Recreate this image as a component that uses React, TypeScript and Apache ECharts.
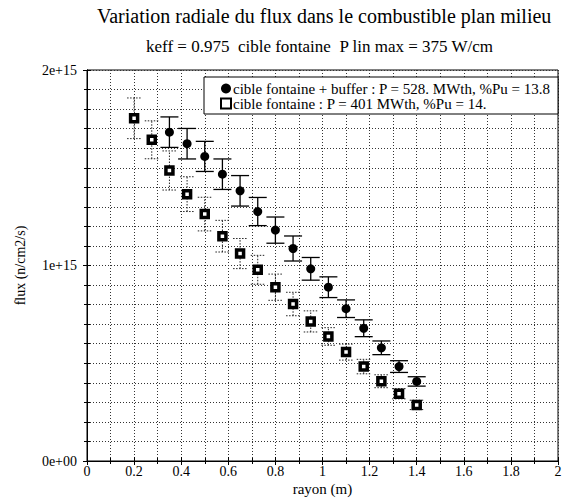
import React, { useEffect, useRef } from "react";
import * as echarts from "echarts";

const SCALE = 1e15;

const radiusFontaine = [0.2, 0.275, 0.35, 0.425, 0.5, 0.575, 0.65, 0.725, 0.8, 0.875, 0.95, 1.025, 1.1, 1.175, 1.25, 1.325, 1.4];
const fluxFontaine = [1.753, 1.643, 1.486, 1.365, 1.263, 1.15, 1.061, 0.978, 0.889, 0.803, 0.714, 0.637, 0.557, 0.483, 0.408, 0.344, 0.287];
const errFontaine = [0.104, 0.097, 0.1, 0.089, 0.086, 0.081, 0.077, 0.074, 0.067, 0.06, 0.054, 0.045, 0.041, 0.037, 0.033, 0.026, 0.024];

const radiusBuffer = [0.35, 0.425, 0.5, 0.575, 0.65, 0.725, 0.8, 0.875, 0.95, 1.025, 1.1, 1.175, 1.25, 1.325, 1.4];
const fluxBuffer = [1.682, 1.623, 1.558, 1.467, 1.382, 1.276, 1.181, 1.087, 0.983, 0.889, 0.779, 0.679, 0.579, 0.483, 0.407];
const errBuffer = [0.078, 0.078, 0.077, 0.078, 0.078, 0.072, 0.067, 0.064, 0.058, 0.053, 0.045, 0.043, 0.035, 0.03, 0.024];

const titleText = "Variation radiale du flux dans le combustible plan milieu";
const subtitleText = "keff = 0.975  cible fontaine  P lin max = 375 W/cm";
const nameBuffer = "cible fontaine + buffer : P = 528. MWth, %Pu = 13.8";
const nameFontaine = "cible fontaine : P = 401 MWth, %Pu = 14.";
const xName = "rayon (m)";
const yName = "flux (n/cm2/s)";

const FONT = "Liberation Serif";

function errorBarRenderer(capHalf: number, style: any) {
  return (params: any, api: any) => {
    const x = api.value(0);
    const lo = api.coord([x, api.value(1)]);
    const hi = api.coord([x, api.value(2)]);
    return {
      type: "group",
      children: [
        { type: "line", shape: { x1: lo[0], y1: lo[1], x2: hi[0], y2: hi[1] }, style },
        { type: "line", shape: { x1: lo[0] - capHalf, y1: lo[1], x2: lo[0] + capHalf, y2: lo[1] }, style },
        { type: "line", shape: { x1: hi[0] - capHalf, y1: hi[1], x2: hi[0] + capHalf, y2: hi[1] }, style },
      ],
    };
  };
}

export default function App() {
  const ref = useRef<HTMLDivElement>(null);
  useEffect(() => {
    if (!ref.current) return;
    const chart = echarts.init(ref.current, null, { renderer: "svg" });
    const bufPts = radiusBuffer.map((r, i) => [r, fluxBuffer[i] * SCALE]);
    const fonPts = radiusFontaine.map((r, i) => [r, fluxFontaine[i] * SCALE]);
    const bufErr = radiusBuffer.map((r, i) => [r, (fluxBuffer[i] - errBuffer[i]) * SCALE, (fluxBuffer[i] + errBuffer[i]) * SCALE]);
    const fonErr = radiusFontaine.map((r, i) => [r, (fluxFontaine[i] - errFontaine[i]) * SCALE, (fluxFontaine[i] + errFontaine[i]) * SCALE]);
    const gridLine = { show: true, lineStyle: { color: "#333", type: [1, 2], width: 1 } };
    const labelStyle = { fontFamily: FONT, fontSize: 14, color: "#000" };
    const option: any = {
      animation: false,
      backgroundColor: "#fff",
      textStyle: { fontFamily: FONT },
      title: [
        { text: titleText, left: 97, top: 6, padding: 0, textStyle: { fontFamily: FONT, fontSize: 20, fontWeight: "normal", color: "#000" } },
        { text: subtitleText, left: 146, top: 38, padding: 0, textStyle: { fontFamily: FONT, fontSize: 17, fontWeight: "normal", color: "#000" } },
      ],
      grid: { left: 87, right: 11, top: 70, bottom: 41, show: true, borderColor: "#000", borderWidth: 1, backgroundColor: "transparent" },
      graphic: [
        { type: "rect", z: 50, shape: { x: 204, y: 77, width: 354, height: 37 }, style: { fill: "#fff", stroke: "#000", lineWidth: 1 } },
      ],
      legend: {
        z: 60,
        orient: "vertical",
        left: 220,
        top: 81,
        itemWidth: 10,
        itemHeight: 10,
        itemGap: 0,
        padding: 0,
        textStyle: { fontFamily: FONT, fontSize: 15, lineHeight: 13, color: "#000", padding: [0, 0, 0, -3] },
        data: [nameBuffer, nameFontaine],
      },
      xAxis: [
        {
          type: "value", min: 0, max: 2, interval: 0.2,
          name: xName, nameLocation: "middle", nameGap: 20, nameMoveOverlap: false,
          nameTextStyle: { fontFamily: FONT, fontSize: 15, color: "#000", verticalAlign: "top" },
          axisLine: { show: true, lineStyle: { color: "#000" } },
          axisTick: { show: true, inside: true, length: 4, lineStyle: { color: "#000" } },
          minorTick: { show: true, splitNumber: 2, length: 3, lineStyle: { color: "#000" } },
          axisLabel: { ...labelStyle, margin: 3 },
          splitLine: gridLine,
          minorSplitLine: gridLine,
        },
        {
          type: "value", min: 0, max: 2, interval: 0.2, position: "top",
          axisLine: { show: true, lineStyle: { color: "#000" } },
          axisTick: { show: true, inside: true, length: 4, lineStyle: { color: "#000" } },
          minorTick: { show: true, splitNumber: 2, length: 3, lineStyle: { color: "#000" } },
          axisLabel: { show: false },
          splitLine: { show: false },
        },
      ],
      yAxis: [
        {
          type: "value", min: 0, max: 2 * SCALE, interval: SCALE,
          name: yName, nameLocation: "middle", nameGap: 60, nameMoveOverlap: false,
          nameTextStyle: { fontFamily: FONT, fontSize: 14, color: "#000" },
          axisLine: { show: true, lineStyle: { color: "#000" } },
          axisTick: { show: true, inside: true, length: 4, lineStyle: { color: "#000" } },
          minorTick: { show: true, splitNumber: 10, length: 3, lineStyle: { color: "#000" } },
          axisLabel: {
            ...labelStyle, margin: 10,
            formatter: (v: number) => (v === 0 ? "0e+00" : `${Math.round(v / SCALE)}e+15`),
          },
          splitLine: gridLine,
          minorSplitLine: gridLine,
        },
        {
          type: "value", min: 0, max: 2 * SCALE, interval: SCALE, position: "right",
          axisLine: { show: true, lineStyle: { color: "#000" } },
          axisTick: { show: true, inside: true, length: 4, lineStyle: { color: "#000" } },
          minorTick: { show: true, splitNumber: 10, length: 3, lineStyle: { color: "#000" } },
          axisLabel: { show: false },
          splitLine: { show: false },
        },
      ],
      series: [
        {
          type: "custom", name: "errBuffer", xAxisIndex: 0, yAxisIndex: 0, z: 3,
          renderItem: errorBarRenderer(9, { stroke: "#000", lineWidth: 1.3 }),
          data: bufErr, encode: { x: 0, y: [1, 2] }, silent: true,
        },
        {
          type: "custom", name: "errFontaine", xAxisIndex: 0, yAxisIndex: 0, z: 3,
          renderItem: errorBarRenderer(7, { stroke: "#222", lineWidth: 1, lineDash: [1.5, 1.5] }),
          data: fonErr, encode: { x: 0, y: [1, 2] }, silent: true,
        },
        {
          type: "scatter", name: nameBuffer, data: bufPts, symbol: "circle", symbolSize: 9, z: 5,
          itemStyle: { color: "#000", opacity: 1 },
        },
        {
          type: "scatter", name: nameFontaine, data: fonPts, symbol: "rect", symbolSize: 7, z: 5,
          itemStyle: { color: "#fff", borderColor: "#000", borderWidth: 3.5, opacity: 1 },
        },
      ],
    };
    chart.setOption(option);
    return () => chart.dispose();
  }, []);
  return <div ref={ref} style={{ position: "absolute", left: 0, top: 0, width: 569, height: 502 }} />;
}
